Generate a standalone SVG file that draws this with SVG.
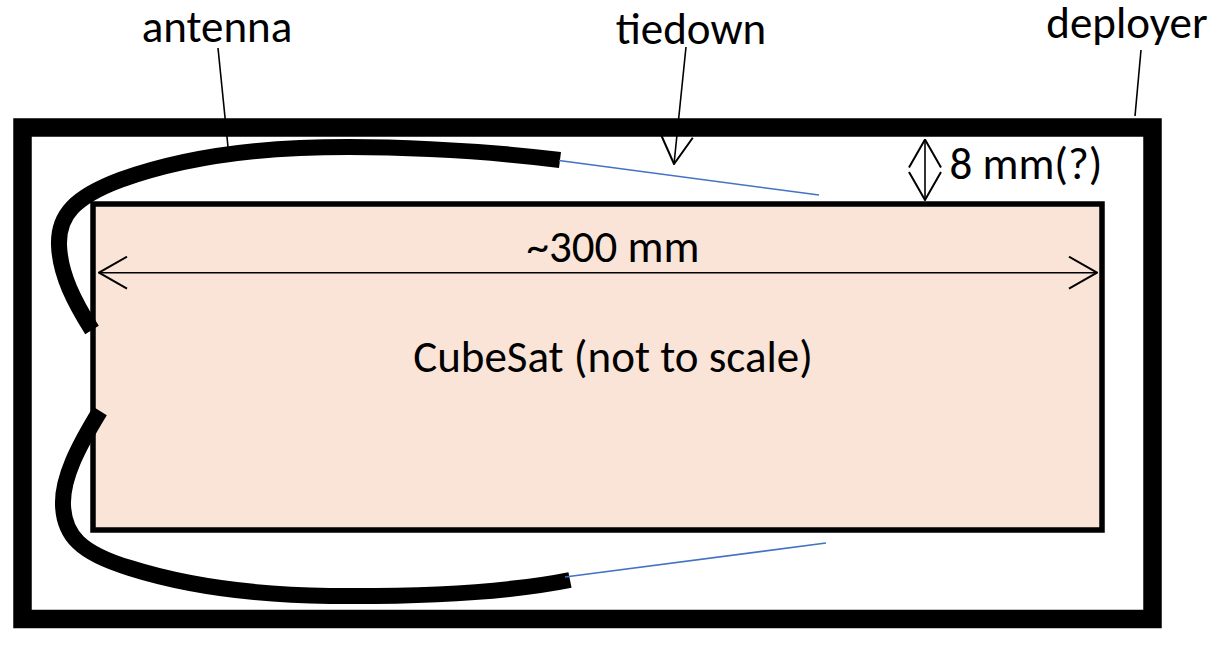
<svg xmlns="http://www.w3.org/2000/svg" width="1224" height="655" viewBox="0 0 1224 655">
  <defs>
    <style>
      .lbl { font-family: Carlito, Lato, "Noto Sans", sans-serif; font-size: 45px; fill: #000; text-anchor: middle; }
      .thin { stroke: #000; stroke-width: 1.6; fill: none; }
      .blue { stroke: #4472C4; stroke-width: 1.6; fill: none; }
      .ant { stroke: #000; stroke-width: 16; fill: none; stroke-linecap: butt; }
    </style>
    <marker id="open" viewBox="0 0 30 34" refX="29" refY="17" markerWidth="30" markerHeight="34" markerUnits="userSpaceOnUse" orient="auto-start-reverse">
      <path d="M1,1 L29,17 L1,33" fill="none" stroke="#000" stroke-width="2"/>
    </marker>
  </defs>
  <rect width="1224" height="655" fill="#fff"/>

  <g id="deployer">
    <rect x="22.5" y="127.5" width="1130" height="491.5" fill="#fff" stroke="#000" stroke-width="18.5"/>
    <text class="lbl" x="1127" y="38">deployer</text>
  </g>

  <g id="cubesat">
    <rect x="93" y="204" width="1009" height="326" fill="#FAE4D7" stroke="#000" stroke-width="5.5"/>
    <text class="lbl" x="613" y="372">CubeSat (not to scale)</text>
  </g>

  <g id="antenna">
    <path class="ant" d="M560,160 C480,150 380,145 300,148 C230,151 170,162 120,180 C75,197 58,215 59,245 C60,275 75,303 92,330"/>
    <path class="ant" d="M100,411 C78,447 62,478 63,505 C64,535 80,553 130,568 C190,587 260,595 330,596 C440,597 520,590 570,580"/>
    <text class="lbl" x="217" y="42">antenna</text>
  </g>

  <g id="tiedown">
    <line class="blue" x1="559" y1="160.5" x2="819" y2="195"/>
    <line class="blue" x1="565" y1="577" x2="826" y2="543"/>
    <text class="lbl" x="691" y="44">tiedown</text>
  </g>

  <g id="dimension-300">
    <text class="lbl" x="613" y="262">~300 mm</text>
  </g>

  <g id="dimension-8">
    <text class="lbl" x="1026" y="179">8 mm(?)</text>
  </g>

  <g id="connectors">
    <line class="thin" x1="218" y1="48" x2="228" y2="147"/>
    <line class="thin" x1="686" y1="47" x2="674" y2="164" marker-end="url(#open)"/>
    <line class="thin" x1="1141" y1="50" x2="1135" y2="116"/>
    <line class="thin" x1="99" y1="272.7" x2="1097" y2="272.7" marker-start="url(#open)" marker-end="url(#open)"/>
    <line class="thin" x1="925" y1="139.5" x2="925" y2="200" marker-start="url(#open)" marker-end="url(#open)"/>
  </g>
</svg>
